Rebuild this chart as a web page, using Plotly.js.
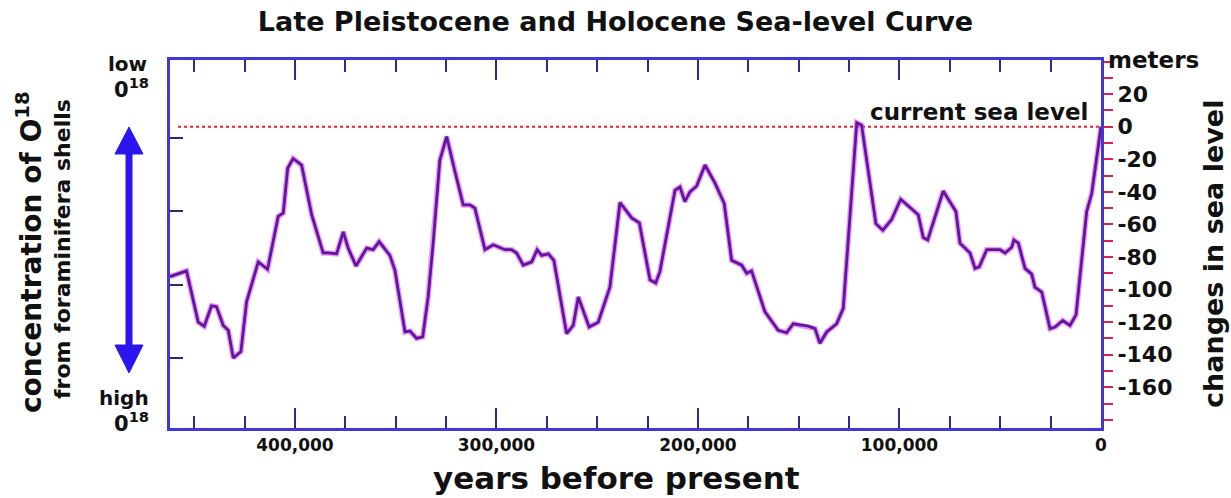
<!DOCTYPE html>
<html>
<head>
<meta charset="utf-8">
<script src="https://cdn.plot.ly/plotly-3.0.1.min.js"></script>
<style>
  html, body { margin: 0; padding: 0; background: #ffffff; }
  #chart { width: 1231px; height: 498px; }
</style>
</head>
<body>
<div id="chart"></div>
<script>
// Sea level through the last ~460,000 years (years before present, metres vs. today)
const yearsBP = [
  462000, 453800, 448000, 445000, 441400, 438900, 435600, 433100, 430600, 426800,
  424000, 418200, 413600, 408300, 405800, 403600, 400900, 396700, 391700, 386000,
  383500, 379300, 376000, 373600, 369700, 364400, 361200, 358200, 352900, 350400,
  345400, 342900, 339600, 336600, 333900, 331400, 328100, 324700, 320600, 316500,
  313200, 310700, 305700, 301600, 295800, 292500, 290000, 286700, 282500, 279800,
  277600, 274300, 271500, 265200, 261900, 259400, 254000, 249500, 243700, 238700,
  232900, 229100, 223800, 221000, 218900, 211400, 208900, 206500, 204000, 200700,
  196500, 191600, 187000, 183300, 178300, 175800, 173400, 166800, 160200, 156000,
  152700, 145300, 141900, 139500, 136100, 131200, 127900, 121200, 118800, 111700,
  108300, 103900, 99400, 90700, 88200, 86000, 78300, 72000, 70000, 65000,
  62500, 60400, 56700, 50100, 47600, 44300, 43200, 41000, 37700, 34400,
  32800, 29400, 25300, 22800, 19000, 15400, 12400, 7100, 4600, 0
];
const seaLevelM = [
  -92, -88.5, -120, -122.5, -110, -110.5, -122, -125, -142, -138,
  -107.5, -83, -87.5, -55, -53, -25.5, -19.5, -23.5, -54, -77.5,
  -77.5, -78, -64.5, -74.5, -85.5, -74.5, -75.5, -70.5, -79, -88,
  -126, -125.5, -130, -129, -104.5, -71.5, -20.5, -6, -27.5, -48,
  -48, -50, -75.5, -72.5, -75.5, -75.5, -77.5, -85, -83, -75.5,
  -79, -78, -82, -127, -122, -104.5, -123, -120, -98.5, -46.5,
  -56, -59, -94, -96, -89, -39, -37, -46, -40, -36.5,
  -23.5, -34.5, -47, -82, -85, -90, -88.5, -113.5, -125, -126.5,
  -121, -122.5, -124, -133, -126, -121, -111.5, 2.5, 1, -59.5,
  -63.5, -57, -44.5, -54, -68, -69.5, -39.5, -52, -71.5, -77.5,
  -87, -86, -75.5, -75.5, -77.5, -74, -69.5, -71.5, -87, -90.5,
  -98.5, -101.5, -124, -123, -119, -122, -115.5, -52, -41, 0
];

// Axis ticks
const yearTicks = [400000, 300000, 200000, 100000, 0];
const yearTickText = ['400,000', '300,000', '200,000', '100,000', '0'];
const meterTicks = [20, 0, -20, -40, -60, -80, -100, -120, -140, -160];
const meterTickText = ['20', '0', '-20', '-40', '-60', '-80', '-100', '-120', '-140', '-160'];
const o18Ticks = [1, 2, 3, 4];

const meterMinor = [];
for (let v = 40; v >= -180; v -= 10) meterMinor.push(v);
const yearMinor = [];
for (let v = 450000; v > 0; v -= 25000) if (v % 100000 !== 0) yearMinor.push(v);

// plot-area frame in pixels (margins below)
const L = 170, R = 1101, T = 60, B = 428;
const px = X => (X - L) / (R - L);
const py = Y => (B - Y) / (B - T);

const FONT = 'DejaVu Sans, Verdana, sans-serif';
const FRAME = '#4336d6';
const ARROW = '#2a14f0';

const bold = (size, color) => ({ family: FONT, size: size, color: color || '#111111', weight: 700 });

const traces = [
  { // soft magenta halo of the curve
    x: yearsBP, y: seaLevelM, type: 'scatter', mode: 'lines',
    line: { color: 'rgba(225,80,245,0.6)', width: 5.5 },
    hoverinfo: 'skip', showlegend: false
  },
  {
    x: yearsBP, y: seaLevelM, type: 'scatter', mode: 'lines',
    line: { color: '#5e179a', width: 2.8 },
    name: 'sea level', showlegend: false
  },
  { // carries the left (oxygen-18) axis
    x: [null], y: [null], yaxis: 'y2', type: 'scatter', mode: 'lines',
    hoverinfo: 'skip', showlegend: false
  }
];

const shapes = [
  { // present-day sea level
    type: 'line', xref: 'x', yref: 'y', x0: 458000, x1: 0, y0: 0, y1: 0,
    line: { color: '#e0202a', width: 2, dash: 'dot' }, layer: 'below'
  },
  { // double arrow shaft
    type: 'line', xref: 'paper', yref: 'paper',
    x0: px(129), x1: px(129), y0: py(148), y1: py(351),
    line: { color: ARROW, width: 7 }
  },
  {
    type: 'path', xref: 'paper', yref: 'paper',
    path: `M ${px(129)} ${py(127)} L ${px(115)} ${py(154)} L ${px(143)} ${py(154)} Z`,
    fillcolor: ARROW, line: { color: ARROW, width: 1 }
  },
  {
    type: 'path', xref: 'paper', yref: 'paper',
    path: `M ${px(129)} ${py(373)} L ${px(115)} ${py(345)} L ${px(143)} ${py(345)} Z`,
    fillcolor: ARROW, line: { color: ARROW, width: 1 }
  }
];

const ann = (text, x, y, font, extra) => Object.assign({
  text: text, x: x, y: y, xref: 'paper', yref: 'paper',
  showarrow: false, font: font, xanchor: 'center', yanchor: 'middle'
}, extra || {});

const annotations = [
  ann('years before present', px(616), py(478), bold(31)),
  ann('meters', px(1106), py(60), bold(23), { xanchor: 'left' }),
  ann('changes in sea level', px(1213), py(254), bold(27), { textangle: -90 }),
  ann('concentration of O<sup>18</sup>', px(29), py(252), bold(28), { textangle: -90 }),
  ann('from foraminifera shells', px(62), py(249), bold(22), { textangle: -90 }),
  ann('low', px(149), py(64), bold(20), { xanchor: 'right' }),
  ann('0<sup>18</sup>', px(151), py(88), bold(21), { xanchor: 'right' }),
  ann('high', px(151), py(398), bold(20), { xanchor: 'right' }),
  ann('0<sup>18</sup>', px(151), py(422), bold(21), { xanchor: 'right' }),
  {
    text: 'current sea level', x: 5500, y: 0, xref: 'x', yref: 'y',
    xanchor: 'right', yanchor: 'bottom', showarrow: false, font: bold(23)
  }
];

const layout = {
  width: 1231, height: 498,
  margin: { l: L, r: 1231 - R, t: T, b: 498 - B, pad: 0 },
  paper_bgcolor: '#ffffff', plot_bgcolor: '#ffffff',
  showlegend: false,
  title: {
    text: 'Late Pleistocene and Holocene Sea-level Curve',
    font: bold(27), x: 0.5, xref: 'container', xanchor: 'center',
    y: 1 - 22 / 498, yref: 'container', yanchor: 'middle'
  },
  xaxis: {
    range: [462000, 0], showgrid: false, zeroline: false,
    showline: true, linecolor: FRAME, linewidth: 3, mirror: 'ticks',
    tickmode: 'array', tickvals: yearTicks, ticktext: yearTickText,
    ticks: 'inside', ticklen: 20, tickwidth: 2, tickcolor: '#2c2a8a',
    tickfont: bold(17),
    minor: { tickmode: 'array', tickvals: yearMinor, ticks: 'inside', ticklen: 12, tickwidth: 2, tickcolor: '#2c2a8a', showgrid: false }
  },
  yaxis: {
    range: [-185, 41], side: 'right', showgrid: false, zeroline: false,
    showline: true, linecolor: FRAME, linewidth: 3, mirror: false,
    tickmode: 'array', tickvals: meterTicks, ticktext: meterTickText,
    ticks: 'outside', ticklen: 9, tickwidth: 2, tickcolor: '#e0204a',
    tickfont: bold(22),
    minor: { tickmode: 'array', tickvals: meterMinor, ticks: 'outside', ticklen: 9, tickwidth: 2, tickcolor: '#e0204a', showgrid: false }
  },
  yaxis2: {
    overlaying: 'y', side: 'left', anchor: 'x',
    range: [4.955, -0.064], showgrid: false, zeroline: false,
    showline: true, linecolor: FRAME, linewidth: 3,
    tickmode: 'array', tickvals: o18Ticks, showticklabels: false,
    ticks: 'inside', ticklen: 13, tickwidth: 2, tickcolor: '#2c2a6a'
  },
  shapes: shapes,
  annotations: annotations
};

Plotly.newPlot('chart', traces, layout, { staticPlot: true, displayModeBar: false });
</script>
</body>
</html>
